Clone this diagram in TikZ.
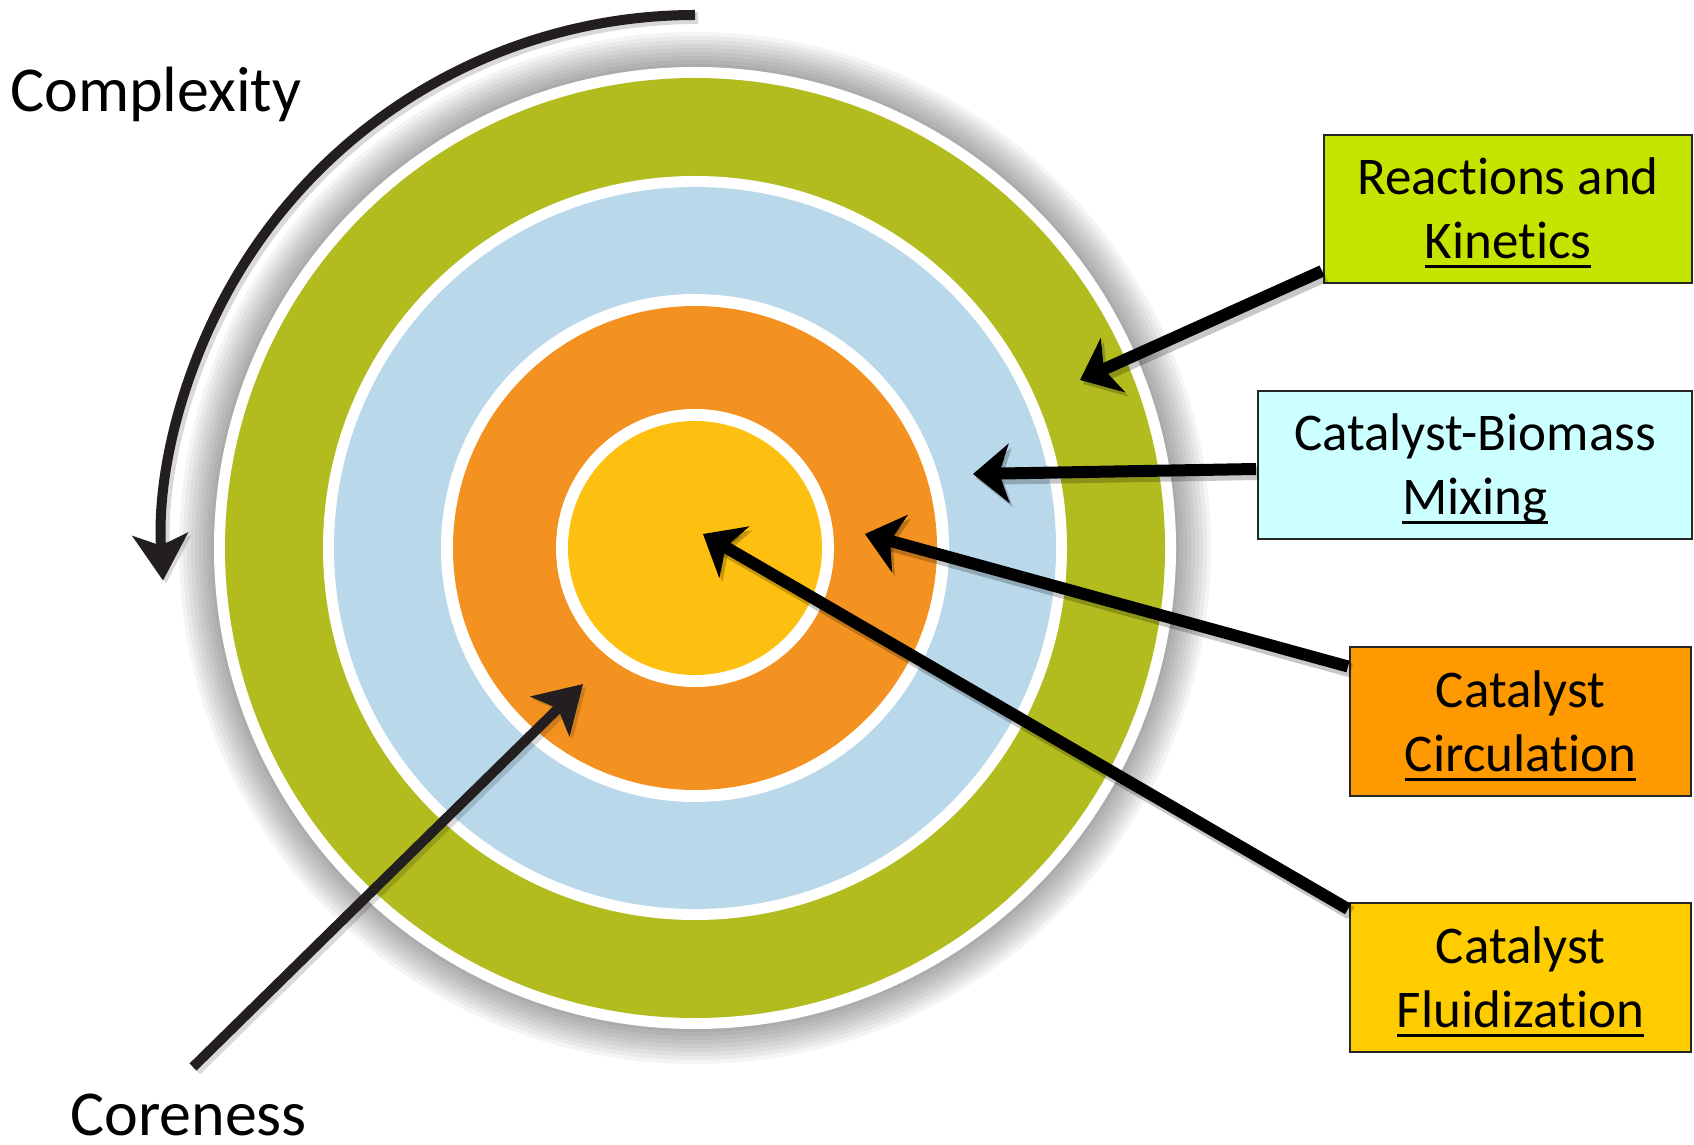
\documentclass[tikz,border=0pt]{standalone}
\usepackage{fontspec}
\setmainfont{Carlito}[Ligatures=NoCommon]
\usetikzlibrary{arrows.meta}
\definecolor{cgreen}{RGB}{178,188,30}
\definecolor{cblue}{RGB}{185,216,234}
\definecolor{corange}{RGB}{243,146,33}
\definecolor{cyellow}{RGB}{253,192,16}
\definecolor{boxR}{RGB}{197,229,0}
\definecolor{boxM}{RGB}{204,255,255}
\definecolor{boxC}{RGB}{255,153,0}
\definecolor{boxF}{RGB}{255,204,0}
\definecolor{darkarrow}{RGB}{35,31,32}
\newcommand\myul[1]{\setbox0\hbox{#1}\rlap{\rule[-9.5pt]{\wd0}{3pt}}\box0}
\newcommand\lift{\rule{0pt}{45pt}}
\begin{document}
\begin{tikzpicture}[x=1pt,y=1pt,
  box/.style={draw=black!85, line width=2pt, align=center,
    font=\fontsize{53}{64}\selectfont, inner sep=0pt},
  conn/.style={line width=12pt, black,
    -{Stealth[length=36pt,width=59pt,inset=10pt]},
    preaction={draw=black, opacity=0.22, line width=14pt,
      transform canvas={shift={(3pt,-4pt)}}}},
  darkconn/.style={line width=10pt, darkarrow,
    -{Stealth[length=46pt,width=55pt,inset=11pt]},
    preaction={draw=black, opacity=0.15, line width=12pt,
      transform canvas={shift={(3pt,-3pt)}}}},
  biglabel/.style={font=\fontsize{64}{76}\selectfont, inner sep=0pt, anchor=base west}
]
\useasboundingbox (0,0) rectangle (1694,1144);
\coordinate (O) at (695,596);

% soft shadow around the target
\foreach \r in {516,512,...,484}
  \fill[black, opacity=0.045] (O) circle[radius=\r];

% rings
\fill[white]   (O) circle[radius=481];
\fill[cgreen]  (O) circle[radius=470];
\fill[white]   (O) circle[radius=372];
\fill[cblue]   (O) circle[radius=361];
\fill[white]   (O) circle[radius=254];
\fill[corange] (O) circle[radius=242];
\fill[white]   (O) circle[radius=139];
\fill[cyellow] (O) circle[radius=127];

% labels
\node[biglabel] (complexity) at (10,1032) {Complexity};
\node[biglabel] (coreness) at (70,9) {Coreness};

% complexity arc
\coordinate (arcstart) at (695,1129);
\draw[darkconn, line width=10pt] (arcstart) arc[start angle=90, end angle=183.5, radius=533];

% coreness arrow
\coordinate (corestart) at (193,77);
\coordinate (coretip) at (583,460);
\draw[darkconn] (corestart) -- (coretip);

% boxes
\node[box, fill=boxR, minimum width=368pt, minimum height=148pt] (bR) at (1508,935) {\lift Reactions and\\\myul{Kinetics}};
\node[box, fill=boxM, minimum width=434pt, minimum height=148pt] (bM) at (1475,679) {\lift Catalyst-Biomass\\\myul{Mixing}};
\node[box, fill=boxC, minimum width=341pt, minimum height=149pt] (bC) at (1520.5,422.5) {\lift Catalyst\\\myul{Circulation}};
\node[box, fill=boxF, minimum width=341pt, minimum height=149pt] (bF) at (1520.5,166.5) {\lift Catalyst\\\myul{Fluidization}};

% connector tips
\coordinate (tR) at (1080,764);
\coordinate (tM) at (973,670);
\coordinate (tC) at (865,610);
\coordinate (tF) at (703,610);

\draw[conn] ([xshift=-1pt,yshift=13pt]bR.south west) -- (tR);
\draw[conn] ([xshift=-1pt,yshift=-4pt]bM.west) -- (tM);
\draw[conn] ([xshift=-1pt,yshift=55pt]bC.west) -- (tC);
\draw[conn] ([xshift=-1pt,yshift=-7pt]bF.north west) -- (tF);
\end{tikzpicture}
\end{document}
